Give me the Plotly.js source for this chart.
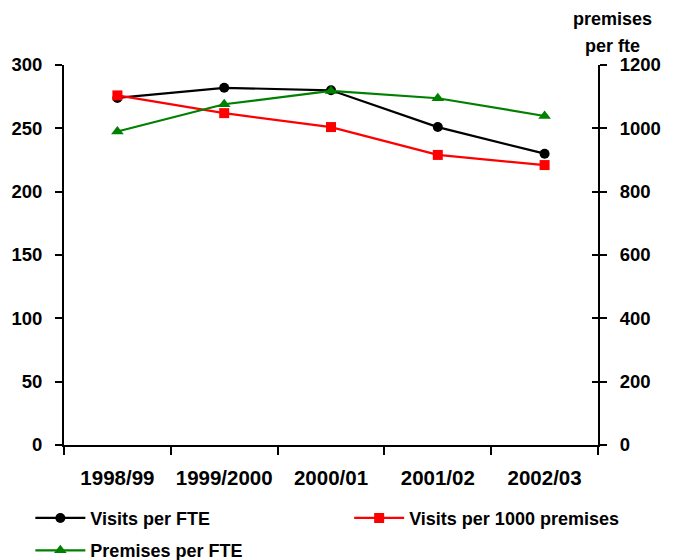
<!DOCTYPE html>
<html>
<head>
<meta charset="utf-8">
<script src="https://cdn.plot.ly/plotly-3.0.1.min.js"></script>
<style>html,body{margin:0;padding:0;background:#fff;}#chart{width:676px;height:560px;}</style>
</head>
<body>
<div id="chart"></div>
<script>
const years = ["1998/99", "1999/2000", "2000/01", "2001/02", "2002/03"];
const visitsPerFTE = [274, 282, 280, 251, 230];
const visitsPer1000Premises = [276, 262, 251, 229, 221];
const premisesPerFTE = [990, 1076, 1118, 1095, 1039];
const leftTicks = [0, 50, 100, 150, 200, 250, 300];
const rightTicks = [0, 200, 400, 600, 800, 1000, 1200];

const FONT = "Liberation Sans, Arial, sans-serif";

const traces = [
  {x: years, y: visitsPerFTE, name: "Visits per FTE", type: "scatter", mode: "lines+markers",
   line: {color: "#000000", width: 2.2}, marker: {symbol: "circle", size: 10, color: "#000000"},
   yaxis: "y", legend: "legend", legendgroup: "a"},
  {x: years, y: visitsPer1000Premises, name: "Visits per 1000 premises", type: "scatter", mode: "lines+markers",
   line: {color: "#ff0000", width: 2.2}, marker: {symbol: "square", size: 10, color: "#ff0000"},
   yaxis: "y", legend: "legend2", legendgroup: "b"},
  {x: years, y: premisesPerFTE, name: "Premises per FTE", type: "scatter", mode: "lines+markers",
   line: {color: "#008000", width: 2.2}, marker: {symbol: "triangle-up", size: 11, color: "#008000"},
   yaxis: "y2", legend: "legend", legendgroup: "c"}
];

const legendFont = {family: FONT, size: 18, color: "#000", weight: 700};

const layout = {
  width: 676, height: 560,
  margin: {l: 64, r: 78, t: 65, b: 115, autoexpand: false},
  paper_bgcolor: "#ffffff", plot_bgcolor: "#ffffff",
  font: {family: FONT, color: "#000000", size: 16, weight: 700},
  showlegend: true,
  legend: {orientation: "v", x: -0.063, xanchor: "left", y: -0.144, yanchor: "top", itemwidth: 50,
    font: legendFont, bgcolor: "rgba(0,0,0,0)", tracegroupgap: 6},
  legend2: {orientation: "v", x: 0.534, xanchor: "left", y: -0.144, yanchor: "top", itemwidth: 50,
    font: legendFont, bgcolor: "rgba(0,0,0,0)", tracegroupgap: 6},
  xaxis: {type: "category", showline: true, linecolor: "#000", linewidth: 2,
    ticks: "outside", ticklen: 8, tickwidth: 2, tickcolor: "#000", tickson: "boundaries",
    showgrid: false, zeroline: false, ticklabelstandoff: 13, tickangle: 0,
    tickfont: {family: FONT, size: 20.5, color: "#000", weight: 700}, range: [-0.5, 4.5]},
  yaxis: {range: [0, 300], tickvals: leftTicks, showline: true, linecolor: "#000", linewidth: 2,
    ticks: "outside", ticklen: 7, tickwidth: 2, tickcolor: "#000", showgrid: false, zeroline: false,
    ticklabelstandoff: 9, tickfont: {family: FONT, size: 18.5, color: "#000", weight: 700}},
  yaxis2: {range: [0, 1200], tickvals: rightTicks, overlaying: "y", side: "right", showline: true,
    linecolor: "#000", linewidth: 2, ticks: "outside", ticklen: 7, tickwidth: 2, tickcolor: "#000",
    showgrid: false, zeroline: false, ticklabelstandoff: 9,
    tickfont: {family: FONT, size: 18.5, color: "#000", weight: 700}},
  yaxis3: {range: [0, 1200], tickvals: rightTicks, overlaying: "y", side: "right", showline: false,
    ticks: "inside", ticklen: 6, tickwidth: 2, tickcolor: "#000", showticklabels: false,
    showgrid: false, zeroline: false},
  annotations: [
    {text: "premises", xref: "paper", yref: "paper", x: 1.028, y: 1.12, xanchor: "center", yanchor: "middle",
     showarrow: false, font: {family: FONT, size: 18, color: "#000", weight: 700}},
    {text: "per fte", xref: "paper", yref: "paper", x: 1.028, y: 1.05, xanchor: "center", yanchor: "middle",
     showarrow: false, font: {family: FONT, size: 18, color: "#000", weight: 700}}
  ]
};

traces.push({x: [years[0]], y: [0], yaxis: "y3", type: "scatter", mode: "markers",
  marker: {opacity: 0}, showlegend: false, hoverinfo: "skip"});

Plotly.newPlot("chart", traces, layout, {displayModeBar: false, staticPlot: true});
</script>
</body>
</html>
